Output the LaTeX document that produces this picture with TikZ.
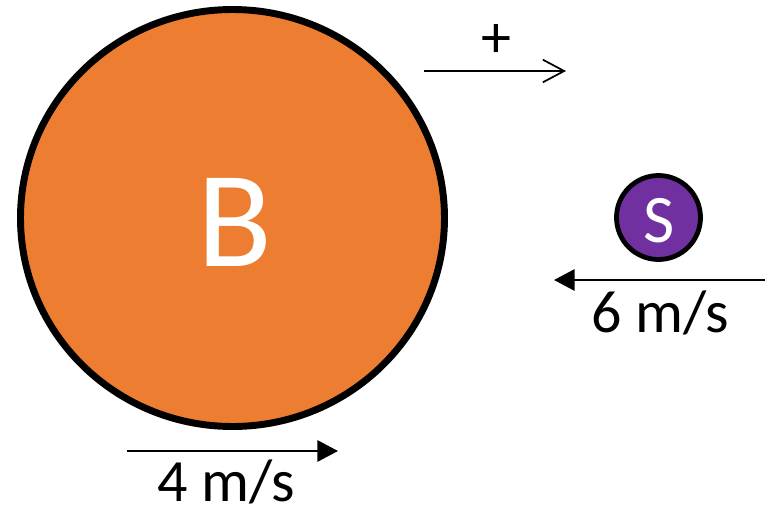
\documentclass[tikz,border=0pt]{standalone}
\usepackage{fontspec}
\setmainfont{Carlito}
\usetikzlibrary{arrows.meta}
\definecolor{borange}{HTML}{ED7D31}
\definecolor{spurple}{HTML}{7030A0}
\tikzset{
  vel/.style={line width=1.6pt,-{Triangle[length=15.5pt,width=16pt]}},
  signarrow/.style={line width=1.3pt,-{Straight Barb[length=16pt,width=17pt,line width=1.3pt]}},
  lbl/.style={anchor=base,inner sep=0pt,font=\fontsize{45}{54}\selectfont},
}
\begin{document}
\begin{tikzpicture}[x=0.75pt,y=-0.75pt]
\useasboundingbox (0,0) rectangle (776,515);
% big ball B
\draw[fill=borange,line width=5.2pt] (232.5,218) ellipse [x radius=212, y radius=208.5];
\node[anchor=base,inner sep=0pt,text=white,font=\fontsize{103}{120}\selectfont] (B) at (235,266) {B};
% small ball S
\draw[fill=spurple,line width=3.6pt] (658.5,217.5) circle [radius=42];
\node[anchor=base,inner sep=0pt,text=white,font=\fontsize{51}{60}\selectfont] (S) at (659,242) {S};
% positive direction
\coordinate (p1) at (424,71);
\coordinate (p2) at (566,71);
\draw[signarrow] (p1) -- (p2);
\node[lbl] (plus) at (496,57) {+};
% velocity of S
\coordinate (s1) at (765,280);
\coordinate (s2) at (554,280);
\draw[vel] (s1) -- (s2);
\node[lbl] (vs) at (660,332) {6 m/s};
% velocity of B
\coordinate (b1) at (127,451);
\coordinate (b2) at (338,451);
\draw[vel] (b1) -- (b2);
\node[lbl] (vb) at (226,501) {4 m/s};
\end{tikzpicture}
\end{document}
